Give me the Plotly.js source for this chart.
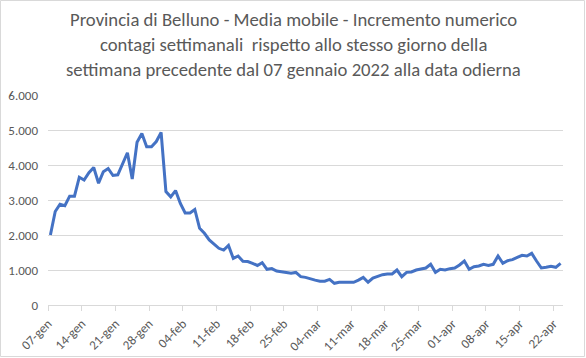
<!DOCTYPE html>
<html>
<head>
<meta charset="utf-8">
<script src="https://cdn.plot.ly/plotly-3.0.1.min.js"></script>
<style>
html,body{margin:0;padding:0;background:#fff;}
#chart{width:586px;height:358px;}
</style>
</head>
<body>
<div id="chart"></div>
<script>
// Data: daily values from 07 Jan 2022 (one value per day)
const startDate = "2022-01-07";
const values = [
  2000, 2670, 2880, 2840, 3110, 3110, 3650, 3570, 3780, 3930,
  3480, 3810, 3900, 3700, 3720, 4050, 4350, 3600, 4650, 4900,
  4520, 4520, 4670, 4930, 3240, 3090, 3270, 2900, 2630, 2630,
  2730, 2190, 2050, 1860, 1740, 1620, 1570, 1700, 1330, 1400,
  1250, 1240, 1190, 1130, 1210, 1020, 1040, 970, 950, 930,
  905, 930, 810, 790, 740, 710, 680, 680, 730, 620,
  650, 650, 650, 650, 710, 790, 650, 770, 820, 867,
  886, 886, 1000, 810, 933, 943, 1000, 1029, 1057, 1162,
  933, 1019, 1000, 1038, 1057, 1143, 1257, 1019, 1095, 1114,
  1162, 1133, 1162, 1400, 1190, 1267, 1295, 1362, 1419, 1400,
  1476, 1257, 1057, 1076, 1105, 1076, 1190
];
const tickDates = ["2022-01-07","2022-01-14","2022-01-21","2022-01-28","2022-02-04","2022-02-11","2022-02-18","2022-02-25","2022-03-04","2022-03-11","2022-03-18","2022-03-25","2022-04-01","2022-04-08","2022-04-15","2022-04-22"];
const tickLabels = ["07-gen","14-gen","21-gen","28-gen","04-feb","11-feb","18-feb","25-feb","04-mar","11-mar","18-mar","25-mar","01-apr","08-apr","15-apr","22-apr"];
const yTicks = [0, 1000, 2000, 3000, 4000, 5000, 6000];
const titleLines = [
  "Provincia di Belluno - Media mobile - Incremento numerico",
  "contagi settimanali  rispetto allo stesso giorno della",
  "settimana precedente dal 07 gennaio 2022 alla data odierna"
];

function addDays(iso, n) {
  const d = new Date(iso + "T00:00:00Z");
  d.setUTCDate(d.getUTCDate() + n);
  return d.toISOString().slice(0, 10);
}
const xs = values.map((v, i) => addDays(startDate, i) + " 12:00");
const xEnd = addDays(startDate, values.length);

const grey = "#595959";
const gridC = "#d9d9d9";
const font = "Carlito, 'Liberation Sans Narrow', 'Liberation Sans', Arial, sans-serif";

const trace = {
  x: xs, y: values, type: "scatter", mode: "lines",
  line: {color: "#4472C4", width: 3, shape: "linear"},
  hoverinfo: "skip"
};

// plot area: x 48..563 px, y 95..305 px
const py = p => (305 - p) / 210;
const titleY = [20, 45, 69];

const layout = {
  width: 586, height: 358,
  margin: {l: 48, r: 23, t: 95, b: 53, pad: 0},
  paper_bgcolor: "#fff", plot_bgcolor: "#fff",
  separators: ",.",
  showlegend: false,
  font: {family: font, color: grey, size: 13},
  annotations: titleLines.map((t, i) => ({
    text: t, xref: "paper", yref: "paper",
    x: (293 - 48) / 515, y: py(titleY[i]),
    xanchor: "center", yanchor: "middle", showarrow: false,
    font: {family: font, size: 18.7, color: grey}
  })),
  xaxis: {
    type: "date",
    range: [startDate, xEnd],
    tickmode: "array", tickvals: tickDates, ticktext: tickLabels,
    tickangle: -45,
    tickfont: {family: font, size: 13, color: grey},
    ticks: "outside", ticklen: 5, tickcolor: gridC, tickwidth: 1,
    showline: true, linecolor: gridC, linewidth: 1,
    showgrid: false, zeroline: false, fixedrange: true
  },
  yaxis: {
    range: [0, 6000],
    tickmode: "array", tickvals: yTicks,
    tickformat: ",d",
    tickfont: {family: font, size: 13, color: grey},
    showgrid: true, gridcolor: gridC, gridwidth: 1,
    zeroline: false, showline: false, ticks: "", ticklabelstandoff: 9,
    fixedrange: true
  },
  shapes: [{
    type: "rect", xref: "paper", yref: "paper",
    x0: (0.5 - 48) / 515, x1: (584.5 - 48) / 515,
    y0: (305 - 356.5) / 210, y1: (305 - 0.5) / 210,
    line: {color: gridC, width: 1}, fillcolor: "rgba(0,0,0,0)", layer: "below"
  }]
};

Plotly.newPlot("chart", [trace], layout, {staticPlot: true, displayModeBar: false});
</script>
</body>
</html>
